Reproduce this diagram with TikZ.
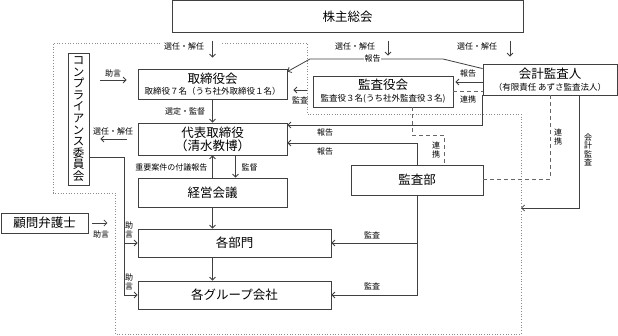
\documentclass[tikz,border=0pt]{standalone}
\usepackage{fontspec}
\setmainfont{Noto Sans CJK JP}
\usetikzlibrary{arrows.meta,positioning,calc}
\newcommand\bigfs{\fontsize{12.5}{14}\selectfont}
\newcommand\subfs{\fontsize{8.5}{10}\selectfont}
\newcommand\lblfs{\fontsize{8}{8.5}\selectfont}
\tikzset{
  blk/.style={draw=black!75, line width=0.8pt, inner sep=0pt, align=center,
              font=\bigfs},
  sig/.style={-{Straight Barb[length=3pt,width=6pt]}, line width=0.8pt, draw=black!75},
  ln/.style={line width=0.8pt, draw=black!75},
  dsh/.style={line width=0.9pt, draw=black!60, dash pattern=on 4pt off 3pt},
  bnd/.style={line width=0.7pt, draw=black!45, dotted},
  lbl/.style={font=\lblfs, inner sep=0.5pt},
  vlbl/.style={font=\lblfs, align=center, inner sep=0pt},
}

\begin{document}
\begin{tikzpicture}[x=1pt, y=-1pt]
    \useasboundingbox (0,0) rectangle (618,336);
    % boxes
    \node[blk, minimum width=351pt, minimum height=31.5pt] (sh) at (347.5,16.4) {株主総会};
    \node[blk, minimum width=149pt, minimum height=30pt] (bod) at (212.5,84)
      {取締役会\\[-3.5pt]{\subfs 取締役７名（うち社外取締役１名）}};
    \node[blk, minimum width=149pt, minimum height=32pt] (rep) at (212.5,139)
      {代表取締役\\[-1pt]（清水教博）};
    \node[blk, minimum width=149pt, minimum height=29pt] (mtg) at (212.5,192.5) {経営会議};
    \node[blk, minimum width=193pt, minimum height=28pt] (dept) at (234.5,243) {各部門};
    \node[blk, minimum width=193pt, minimum height=28pt] (grp) at (234.5,295) {各グループ会社};
    \node[blk, minimum width=21pt, minimum height=132pt, font=\fontsize{11.5}{11.6}\selectfont]
      (comp) at (78.5,119) {コ\\ン\\プ\\ラ\\イ\\ア\\ン\\ス\\委\\員\\会};
    \node[blk, minimum width=87pt, minimum height=20pt] (lawyer) at (44.5,223) {顧問弁護士};
    \node[blk, minimum width=140pt, minimum height=31pt] (aud) at (383,91.5)
      {監査役会\\[-2pt]{\subfs 監査役３名(うち社外監査役３名)}};
    \node[blk, minimum width=134pt, minimum height=31pt] (acc) at (550,79.5)
      {会計監査人\\[-2pt]{\subfs （有限責任 あずさ監査法人）}};
    \node[blk, minimum width=132pt, minimum height=30pt] (iad) at (417,180) {監査部};

    % group boundary
    \draw[bnd] (160,43) -- (53,43) -- (53,193) -- (115,193) -- (115,334) -- (521,334)
      -- (521,114) -- (307,114) -- (307,43) -- (222,43);

    % shareholders
    \coordinate (audn) at ([xshift=5pt]aud.north);
    \coordinate (accn) at ([xshift=-40pt]acc.north);
    \draw[sig, shorten <=8pt, shorten >=11pt] (sh.south -| bod.north) -- (bod.north);
    \draw[sig, shorten <=8pt, shorten >=20pt] (sh.south -| audn) -- (audn);
    \draw[sig, shorten <=8pt, shorten >=7pt] (sh.south -| accn) -- (accn);
    \node[lbl] (sel1) at (184,46) {選任・解任};
    \node[lbl] (sel2) at (355,46) {選任・解任};
    \node[lbl] (sel3) at (477,46) {選任・解任};

    % auditor links
    \draw[sig] ([yshift=-5pt]acc.north west) -- (443,59)
      -- node[lbl, fill=white, pos=0.53] (rp1) {報告} (310,59)
      -- ([yshift=-3pt]bod.north east);
    \draw[sig, shorten >=2pt] ([yshift=-2.5pt]acc.west) -- ([yshift=-2.5pt]acc.west -| aud.east);
    \node[lbl] (rp2) at (468,74) {報告};
    \draw[dsh] (aud.east) -- (aud.east -| acc.west);
    \node[lbl] (co1) at (468,99) {連携};
    \draw[sig, shorten <=6pt, shorten >=6pt] ([yshift=1.5pt]aud.west) -- ([yshift=1.5pt]aud.west -| bod.east);
    \node[lbl] (au1) at (300,100) {監査};
    \draw[sig] (acc.south west) |- ([yshift=14pt]rep.east);
    \node[lbl] (rp3) at (325,132) {報告};
    \draw[sig] (iad.north) |- ([yshift=-4pt]rep.east);
    \node[lbl] (rp4) at (325,151) {報告};
    \draw[dsh] ([xshift=29pt]aud.south) -- ++(0,28) -| ([xshift=27pt]iad.north);
    \node[vlbl] (co2) at (436,150) {連\\携};
    \draw[dsh] (acc.south) |- ([yshift=1pt]iad.east);
    \node[vlbl] (co3) at (558,137) {連\\携};
    \coordinate (bndr) at (521,208);
    \draw[sig] ([xshift=29pt]acc.south) |- (bndr);
    \node[vlbl] (ea) at (588,150) {会\\計\\監\\査};
    \draw[sig] (iad.south) |- (dept.east);
    \draw[sig] (iad.south) |- (grp.east);
    \node[lbl] (au2) at (372,235) {監査};
    \node[lbl] (au3) at (372,286) {監査};

    % main line
    \draw[sig] (bod) -- (rep);
    \node[lbl] (sv) at (185,111) {選定・監督};
    \draw[sig] (mtg) -- (rep);
    \draw[sig] ([xshift=23pt]rep.south) -- ([xshift=23pt]mtg.north);
    \node[lbl, anchor=east] (imp) at (208,167) {重要案件の付議報告};
    \node[lbl, anchor=west] (sup1) at (241,167) {監督};
    \draw[sig] (mtg.south) -- (mtg.south |- dept.north);
    \draw[sig] (dept.south -| mtg.south) -- (grp.north -| mtg.south);

    % compliance and counsel
    \coordinate (bodw) at ([yshift=4pt]bod.west);
    \draw[sig, shorten <=11pt, shorten >=11pt] (comp.east |- bodw) -- (bodw);
    \node[lbl] (adv1) at (113,73) {助言};
    \draw[sig, shorten <=11pt, shorten >=11pt] (rep.west) -- (rep.west -| comp.east);
    \node[lbl] (sel4) at (113,131) {選任・解任};
    \coordinate (cj) at ([xshift=35pt,yshift=-38pt]comp.east);
    \draw[sig] ([yshift=-38pt]comp.east) -- (cj) |- (grp.west);
    \draw[sig] (cj |- dept.west) -- (dept.west);
    \node[vlbl] (adv2) at (129,230) {助\\言};
    \node[vlbl] (adv3) at (129,282) {助\\言};
    \draw[sig, shorten <=4pt] (lawyer.east) -- ++(19,0);
    \node[lbl] (adv4) at (101,234) {助言};
\end{tikzpicture}
\end{document}
